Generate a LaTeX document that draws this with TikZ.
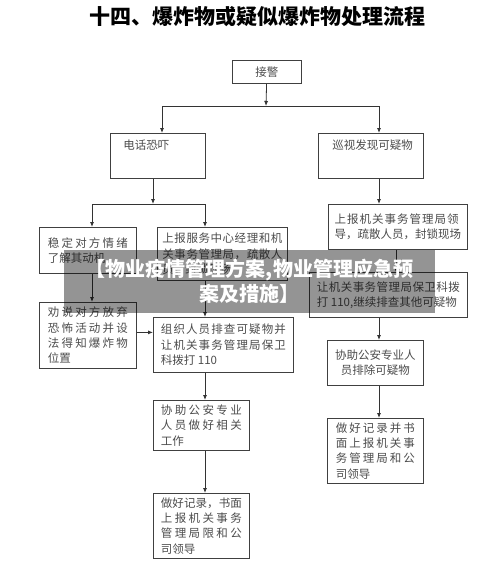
\documentclass[tikz,border=0pt]{standalone}
\usepackage{fontspec}
\newfontfamily\cjk{Noto Sans CJK SC}
\usetikzlibrary{arrows.meta}
\newcommand\fillline[2]{{\spaceskip=0pt plus 1fil\makebox[#1pt][s]{#2}}}
\begin{document}
\begin{tikzpicture}[x=1pt, y=-1pt, >={Latex[length=5pt,width=4pt]}, line width=.8pt, draw=black!80,
    box/.style={draw=black!75, anchor=north west, inner sep=0pt, align=left, text=black!70, font=\cjk\fontsize{11.5}{15.3}\selectfont},
    lbl/.style={text=black!70, font=\cjk\fontsize{11.5}{15.3}\selectfont, inner sep=0pt, anchor=west}]
    \fill[white] (0,0) rectangle (500,563);
    \useasboundingbox (0,0) rectangle (500,563);
    \node[font=\cjk\fontsize{21}{21}\selectfont\bfseries] (title) at (257.5,17) {十四、爆炸物或疑似爆炸物处理流程};
    \node[box, minimum width=69, minimum height=23, align=center] (jiejing) at (232,60) {接警};
    \node[box, minimum width=95, minimum height=45] (dianhua) at (110,133) {};
    \node[lbl] (dianhua-t) at (123,145) {电话恐吓};
    \node[box, minimum width=105, minimum height=45] (xunshi) at (318,133) {};
    \node[lbl] (xunshi-t) at (332,145) {巡视发现可疑物};
    \node[box, minimum width=97, minimum height=46] (wending) at (39,227) {\fillline{80}{稳 定 对 方 情 绪}\\了解其动机};
    \node[box, minimum width=130, minimum height=53] (shangbao-m) at (157,227) {\fillline{120}{上 报 服 务 中 心 经 理 和 机}\\\fillline{120}{关 事 务 管 理 局 ， 疏 散 人}\\员，封锁现场};
    \node[box, minimum width=139, minimum height=45] (shangbao-r) at (328,204) {\fillline{124}{上 报 机 关 事 务 管 理 局 领}\\导，疏散人员，封锁现场};
    \node[box, minimum width=97, minimum height=66] (quanshuo) at (39,302) {\fillline{80}{劝 说 对 方 放 弃}\\\fillline{80}{恐 怖 活 动 并 设}\\\fillline{80}{法 得 知 爆 炸 物}\\位置};
    \node[box, minimum width=140, minimum height=55] (zuzhi) at (153,317) {\fillline{125}{组 织 人 员 排 查 可 疑 物 并}\\\fillline{125}{让 机 关 事 务 管 理 局 保 卫}\\科拨打 110};
    \node[box, minimum width=158, minimum height=45] (baowei) at (309,272) {\fillline{143}{让 机 关 事 务 管 理 局 保 卫 科 拨}\\打 110,继续排查其他可疑物};
    \node[box, minimum width=96, minimum height=45, align=center] (xiezhu-r) at (327,340) {协助公安专业人\\员排除可疑物};
    \node[box, minimum width=96, minimum height=65] (jilu-r) at (327,418) {\fillline{79}{做 好 记 录 并 书}\\\fillline{79}{面 上 报 机 关 事}\\\fillline{79}{务 管 理 局 和 公}\\司领导};
    \node[box, minimum width=96, minimum height=50] (xiezhu-m) at (153,400) {\fillline{81}{协 助 公 安 专 业}\\\fillline{81}{人 员 做 好 相 关}\\工作};
    \node[box, minimum width=96, minimum height=65] (jilu-m) at (153,493) {\fillline{81}{做 好 记 录 ， 书 面}\\\fillline{81}{上 报 机 关 事 务}\\\fillline{81}{管 理 局 限 和 公}\\司领导};
    \coordinate (top) at (266,106); \coordinate (top-l) at (162,106); \coordinate (top-r) at (379,106);
    \coordinate (fen) at (153,204); \coordinate (fen-l) at (92,204); \coordinate (fen-r) at (205,204);
    \draw[->] (jiejing) -- (top);
    \draw (top-l) -- (top-r);
    \draw[->] (top-l) -- (top-l |- dianhua.north);
    \draw[->] (top-r) -- (top-r |- xunshi.north);
    \draw[->] (fen |- dianhua.south) -- (fen);
    \draw (fen-l) -- (fen-r);
    \draw[->] (fen-l) -- (fen-l |- wending.north);
    \draw[->] (fen-r) -- (fen-r |- shangbao-m.north);
    \draw[->] (top-r |- xunshi.south) -- (top-r |- shangbao-r.north);
    \draw[->] ([xshift=-2pt]shangbao-r.south) -- ([xshift=-2pt]shangbao-r.south |- baowei.north);
    \draw[->] (top-r |- baowei.south) -- (top-r |- xiezhu-r.north);
    \draw[->] (top-r |- xiezhu-r.south) -- (top-r |- jilu-r.north);
    \draw[->] (fen-l |- wending.south) -- (fen-l |- quanshuo.north);
    \draw[->] ([yshift=3pt]quanshuo.east) -- ([yshift=3pt]quanshuo.east -| zuzhi.west);
    \draw[->] (fen-r |- shangbao-m.south) -- (fen-r |- zuzhi.north);
    \draw[->] (fen-r |- zuzhi.south) -- (fen-r |- xiezhu-m.north);
    \draw[->] (fen-r |- xiezhu-m.south) -- (fen-r |- jilu-m.north);
    \fill[black, fill opacity=.42] (64,250) rectangle (435,313);
    \node[text=white, align=center, font=\cjk\fontsize{20}{25}\selectfont\bfseries] (banner) at (249.5,281) {【物业疫情管理方案,物业管理应急预\\案及措施】};
\end{tikzpicture}
\end{document}
